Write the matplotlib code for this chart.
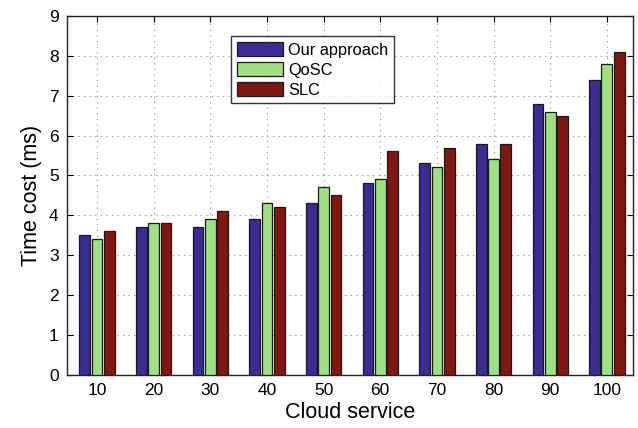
import matplotlib.pyplot as plt
import numpy as np

plt.rcParams['font.family'] = ['Liberation Sans', 'DejaVu Sans']

services = ['10', '20', '30', '40', '50', '60', '70', '80', '90', '100']
our_approach = [3.5, 3.7, 3.7, 3.9, 4.3, 4.8, 5.3, 5.8, 6.8, 7.4]
qosc = [3.4, 3.8, 3.9, 4.3, 4.7, 4.9, 5.2, 5.4, 6.6, 7.8]
slc = [3.6, 3.8, 4.1, 4.2, 4.5, 5.6, 5.7, 5.8, 6.5, 8.1]

fig = plt.figure(figsize=(6.38, 4.28), dpi=100)
ax = fig.add_axes([0.105, 0.124, 0.887, 0.839])

x = np.arange(1, len(services) + 1)
w = 0.19
step = 0.217
series = [(our_approach, '#3a2c94', 'Our approach'),
          (qosc, '#9de27e', 'QoSC'),
          (slc, '#82170f', 'SLC')]
for i, (vals, col, lab) in enumerate(series):
    ax.bar(x + (i - 1) * step, vals, width=w, color=col, edgecolor='#1a1a1a',
           linewidth=0.9, label=lab, zorder=3)

ax.set_xlim(0.47, 10.46)
ax.set_ylim(0, 9)
ax.set_xticks(x)
ax.set_xticklabels(services)
ax.set_yticks(range(0, 10))
ax.tick_params(direction='in', top=True, right=True, labelsize=12.5, length=4,
               width=0.8, pad=6)
ax.grid(True, linestyle=(0, (1, 4)), color='#888888', linewidth=0.8, zorder=0)
ax.set_xlabel('Cloud service', fontsize=15.5, labelpad=3)
ax.set_ylabel('Time cost (ms)', fontsize=15.5, labelpad=5)
for s in ax.spines.values():
    s.set_linewidth(1.0)
    s.set_color('#222222')

leg = ax.legend(loc='upper left', bbox_to_anchor=(0.29, 0.944), fontsize=11.8,
                frameon=True, fancybox=False, edgecolor='black',
                handlelength=2.8, handleheight=1.0, borderpad=0.35,
                labelspacing=0.25, handletextpad=0.35, borderaxespad=0)
leg.get_frame().set_linewidth(1.0)
leg.set_zorder(5)

fig.savefig('out.png', dpi=100)
